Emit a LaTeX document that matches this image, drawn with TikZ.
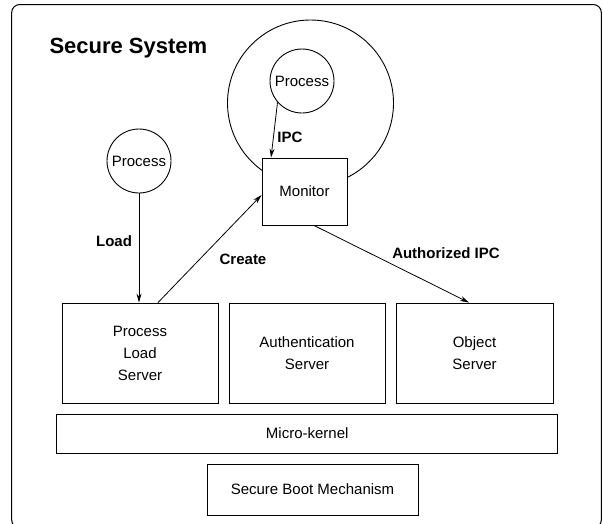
\documentclass[tikz,border=0pt]{standalone}
\usepackage{fontspec}
\setmainfont{Liberation Sans}
\usetikzlibrary{arrows.meta,calc}
\begin{document}
\begin{tikzpicture}[x=1pt,y=-1pt,
  box/.style={draw,line width=0.9pt,inner sep=0pt,font=\fontsize{15}{22}\selectfont,align=center},
  proc/.style={draw,circle,line width=0.9pt,inner sep=0pt,minimum size=64pt,font=\fontsize{15}{18}\selectfont},
  lbl/.style={font=\fontsize{15}{18}\selectfont\bfseries},
  arr/.style={line width=0.8pt,-{Stealth[length=9pt,width=5pt]}}]
\useasboundingbox (0,0) rectangle (603,523);
% outer frame
\draw[line width=1pt,rounded corners=8pt] (11.7,4.5) rectangle (601.3,528);
\node[font=\fontsize{22}{26}\selectfont\bfseries,anchor=west] (title) at (46,48) {Secure System};
% big circle
\node[draw,circle,line width=0.9pt,minimum size=166pt,inner sep=0pt] (big) at (310.5,103) {};
% monitor
\node[box,fill=white,minimum width=85pt,minimum height=67pt] (mon) at (304.5,191.5) {Monitor};
% processes
\node[proc] (p1) at (302,81) {Process};
\node[proc] (p2) at (139,161) {Process};
% servers
\node[box,minimum width=156pt,minimum height=100pt] (pls) at (140,353) {Process\\Load\\Server};
\node[box,minimum width=156pt,minimum height=100pt] (auth) at (307,353) {Authentication\\Server};
\node[box,minimum width=157pt,minimum height=100pt] (obj) at (474.5,353) {Object\\Server};
\node[box,minimum width=501pt,minimum height=39pt] (mk) at (307.25,433.5) {Micro-kernel};
\node[box,minimum width=211pt,minimum height=51pt] (boot) at (312.5,489.5) {Secure Boot Mechanism};
% connectors
\draw[arr] (p1.221) -- ($(mon.north west)+(9.5,0)$);
\draw[arr] (p2.south) -- (pls.north -| p2.south);
\draw[arr] ($(pls.north)+(18,0)$) -- ($(mon.west)+(0,3.5)$);
\draw[arr] ($(mon.south)+(9.5,0)$) -- ($(obj.north)+(-5.5,0)$);
% labels
\node[lbl] (lipc) at (290,137) {IPC};
\node[lbl] (lload) at (114,241) {Load};
\node[lbl] (lcreate) at (243,259) {Create};
\node[lbl] (lauth) at (446,253) {Authorized IPC};
\end{tikzpicture}
\end{document}
